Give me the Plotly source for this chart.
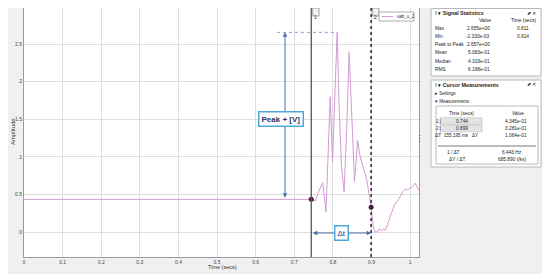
import plotly.graph_objects as go

# signal trace (time in secs, amplitude)
sig_t = [0.0, 0.744, 0.754, 0.764, 0.774, 0.778, 0.782, 0.787, 0.793, 0.799, 0.805, 0.811,
         0.816, 0.822, 0.829, 0.836, 0.842, 0.849, 0.856, 0.864, 0.870, 0.879, 0.888, 0.894,
         0.899, 0.905, 0.909, 0.914, 0.920, 0.926, 0.931, 0.935, 0.942, 0.948, 0.955, 0.961,
         0.966, 0.970, 0.975, 0.978, 0.983, 0.987, 0.993, 1.000, 1.006, 1.013, 1.019, 1.023]
sig_v = [0.4345, 0.4345, 0.41, 0.55, 0.655, 0.45, 0.27, 0.95, 1.80, 0.935, 1.8, 2.655,
         1.7, 0.9, 0.536, 1.4, 2.39, 1.4, 0.67, 1.22, 1.02, 0.85, 0.69, 0.49,
         0.336, 0.05, 0.0, -0.0023, 0.04, 0.02, 0.04, 0.02, 0.1, 0.2, 0.3, 0.38,
         0.40, 0.43, 0.48, 0.52, 0.54, 0.57, 0.56, 0.585, 0.60, 0.65, 0.585, 0.55]

# cursors
cursor_t = [0.744, 0.899]
cursor_v = [0.4345, 0.3281]
cursor_names = ["1", "2"]

peak_t = 0.811
peak_v = 2.655
peak_arrow_t = 0.676
peak_guide_t0 = 0.655
dt_level = -0.013

x_ticks = [0, 0.1, 0.2, 0.3, 0.4, 0.5, 0.6, 0.7, 0.8, 0.9, 1]
x_ticktext = ["0", "0.1", "0.2", "0.3", "0.4", "0.5", "0.6", "0.7", "0.8", "0.9", "1"]
y_ticks = [0, 0.5, 1, 1.5, 2, 2.5]
y_ticktext = ["0", "0.5", "1", "1.5", "2", "2.5"]

# signal statistics panel
stat_names = ["Max", "Min", "Peak to Peak", "Mean", "Median", "RMS"]
stat_values = ["2.655e+00", "-2.330e-03", "2.657e+00", "5.083e-01", "4.319e-01", "6.168e-01"]
stat_times = ["0.811", "0.914", "", "", "", ""]

# cursor measurements panel
meas_times = ["0.744", "0.899"]
meas_values = ["4.345e-01", "3.281e-01"]
delta_t = "155.195 ms"
delta_y = "1.064e-01"
inv_dt = "6.443 Hz"
dy_dt = "685.890 (/ks)"

# page layout (page pixels); the page body adds an 8px margin
PAGE_W, PAGE_H, OFF = 550, 279, 8
W, H = PAGE_W - OFF, PAGE_H - OFF
L, R, T, B = 24, 419, 8, 257


def px(x):
    return (x - L) / (R - L)


def py(y):
    return (B - y) / (B - T)


fig = go.Figure()

fig.add_trace(go.Scatter(x=sig_t, y=sig_v, mode='lines', name='sab_u_2',
                         line=dict(color='#d49ad4', width=1)))
fig.add_trace(go.Scatter(x=cursor_t, y=cursor_v, mode='markers',
                         marker=dict(color='#4a1848', size=5)))

shapes = []
annos = []

# white edges outside the grey window
for x0, y0, x1, y1 in [(0, 274, PAGE_W, PAGE_H), (543, 0, PAGE_W, PAGE_H)]:
    shapes.append(dict(type='rect', xref='paper', yref='paper', x0=px(x0), x1=px(x1),
                       y0=py(y1), y1=py(y0), fillcolor='white', line=dict(width=0), layer='below'))

# cursor lines
shapes.append(dict(type='line', x0=cursor_t[0], x1=cursor_t[0], yref='paper', y0=0, y1=1,
                   line=dict(color='#555555', width=1.3)))
shapes.append(dict(type='line', x0=cursor_t[1], x1=cursor_t[1], yref='paper', y0=0, y1=1,
                   line=dict(color='#333333', width=1.6, dash='dot')))
for ct, name in zip(cursor_t, cursor_names):
    shapes.append(dict(type='rect', x0=ct + 0.004, x1=ct + 0.02, yref='paper', y0=py(16), y1=py(8),
                       fillcolor='#f4f4f4', line=dict(color='#888888', width=0.8)))
    annos.append(dict(x=ct + 0.012, y=py(12), yref='paper', text=name, showarrow=False,
                      font=dict(size=5, color='#333333')))

# peak guide line
shapes.append(dict(type='line', x0=peak_guide_t0, x1=peak_t, y0=peak_v, y1=peak_v,
                   line=dict(color='#7fa3d4', width=1, dash='dot')))

# legend box
shapes.append(dict(type='rect', xref='paper', yref='paper', x0=px(379), x1=px(414),
                   y0=py(21), y1=py(12), fillcolor='white', line=dict(color='#9a9a9a', width=0.8)))
shapes.append(dict(type='line', xref='paper', yref='paper', x0=px(382), x1=px(393),
                   y0=py(16.5), y1=py(16.5), line=dict(color='#d49ad4', width=1)))
annos.append(dict(xref='paper', yref='paper', x=px(395), y=py(16.5), text='sab_u_2',
                  showarrow=False, xanchor='left', yanchor='middle',
                  font=dict(size=4.5, color='#333333')))

# peak arrow + label
annos.append(dict(x=peak_arrow_t, y=peak_v, ax=peak_arrow_t, ay=cursor_v[0], axref='x', ayref='y',
                  text='', showarrow=True, arrowhead=2, arrowside='end+start', arrowsize=0.9,
                  arrowwidth=1, arrowcolor='#4a6ea8'))
annos.append(dict(x=0.666, y=1.503, text='<b>Peak + [V]</b>', showarrow=False,
                  font=dict(size=8, color='#1f3864'), bgcolor='white',
                  bordercolor='#4fa8dc', borderwidth=1.5, borderpad=2))

# delta t arrow + label
annos.append(dict(x=cursor_t[1], y=dt_level, ax=cursor_t[0], ay=dt_level, axref='x', ayref='y',
                  text='', showarrow=True, arrowhead=2, arrowside='end+start', arrowsize=0.9,
                  arrowwidth=1, arrowcolor='#4a6ea8'))
annos.append(dict(x=(cursor_t[0] + cursor_t[1]) / 2, y=dt_level, text='Δt', showarrow=False,
                  font=dict(size=8, color='#1f3864'), bgcolor='white',
                  bordercolor='#4fa8dc', borderwidth=1.5, borderpad=2))

# splitter handle
annos.append(dict(xref='paper', yref='paper', x=px(426), y=py(139), text='⋮', showarrow=False,
                  font=dict(size=9, color='#555555')))

# axis titles
annos.append(dict(xref='paper', yref='paper', x=px(222), y=py(272), text='Time (secs)',
                  showarrow=False, font=dict(size=5.5, color='#333333')))
annos.append(dict(xref='paper', yref='paper', x=px(8), y=py(132), text='Amplitude',
                  showarrow=False, textangle=-90, font=dict(size=6, color='#333333')))


def ptext(x, y, text, size=4.8, anchor='left', bold=False, color='#222222'):
    if bold:
        text = '<b>' + text + '</b>'
    annos.append(dict(xref='paper', yref='paper', x=px(x), y=py(y), text=text, showarrow=False,
                      xanchor=anchor, yanchor='middle', font=dict(size=size, color=color)))


def prect(x0, y0, x1, y1, fill='white', line='#a8a8a8'):
    shapes.append(dict(type='rect', xref='paper', yref='paper', x0=px(x0), x1=px(x1),
                       y0=py(y1), y1=py(y0), fillcolor=fill, line=dict(color=line, width=0.8)))


# Signal Statistics panel
prect(431, 8.5, 541, 76)
ptext(433, 13, '⁞ ▾ Signal Statistics', size=5.3, bold=True)
ptext(538, 13, '⬈ ✕', size=4.5, anchor='right')
ptext(485, 20, 'Value', anchor='center')
ptext(523, 20, 'Time (secs)', anchor='center')
for i, (n, v, tm) in enumerate(zip(stat_names, stat_values, stat_times)):
    yy = 28 + i * 8.3
    ptext(433, yy, n)
    ptext(492, yy, v, anchor='right')
    ptext(523, yy, tm, anchor='center')

# Cursor Measurements panel
prect(431, 80, 541, 167)
ptext(433, 85, '⁞ ▾ Cursor Measurements', size=5.3, bold=True)
ptext(538, 85, '⬈ ✕', size=4.5, anchor='right')
ptext(433, 93, '▸ Settings', size=4.5)
ptext(433, 101, '▾ Measurements', size=4.5)
prect(436, 106, 538, 164)
ptext(462, 113, 'Time (secs)', anchor='center')
ptext(518, 113, 'Value', anchor='center')
for i, (tm, v) in enumerate(zip(meas_times, meas_values)):
    yy = 121 + i * 7.5
    prect(440, yy - 3.3, 482, yy + 3.3, fill='#e4e4e4', line='#c8c8c8')
    ptext(434, yy, str(i + 1) + ' |', size=4.5)
    ptext(462, yy, tm, anchor='center')
    ptext(516, yy, v, anchor='center')
ptext(433, 136, 'ΔT', size=4.8)
ptext(441.5, 136, delta_t, size=4.6)
ptext(470, 136, 'ΔY', size=4.6)
ptext(516, 136, delta_y, anchor='center')
shapes.append(dict(type='line', xref='paper', yref='paper', x0=px(438), x1=px(536),
                   y0=py(146), y1=py(146), line=dict(color='#555555', width=0.8)))
ptext(453, 152, '1 / ΔT', anchor='center')
ptext(512, 152, inv_dt, anchor='center')
ptext(457, 159.5, 'ΔY / ΔT', anchor='center')
ptext(512, 159.5, dy_dt, anchor='center')

fig.update_layout(
    width=W, height=H,
    margin=dict(l=L - OFF, r=PAGE_W - R, t=T - OFF, b=PAGE_H - B, pad=0),
    paper_bgcolor='#f0f0f0',
    plot_bgcolor='white',
    showlegend=False,
    font=dict(family='Arial, Liberation Sans, sans-serif'),
    shapes=shapes,
    annotations=annos,
    xaxis=dict(range=[0, 1.023], tickvals=x_ticks, ticktext=x_ticktext,
               showgrid=True, gridcolor='#dedede', gridwidth=1, zeroline=False,
               showline=True, linecolor='#9a9a9a', mirror=True,
               tickfont=dict(size=5, color='#444444')),
    yaxis=dict(range=[-0.332, 2.979], tickvals=y_ticks, ticktext=y_ticktext,
               showgrid=True, gridcolor='#dedede', gridwidth=1, zeroline=False,
               showline=True, linecolor='#9a9a9a', mirror=True,
               tickfont=dict(size=5, color='#444444')),
)

fig.write_html("out.html")
